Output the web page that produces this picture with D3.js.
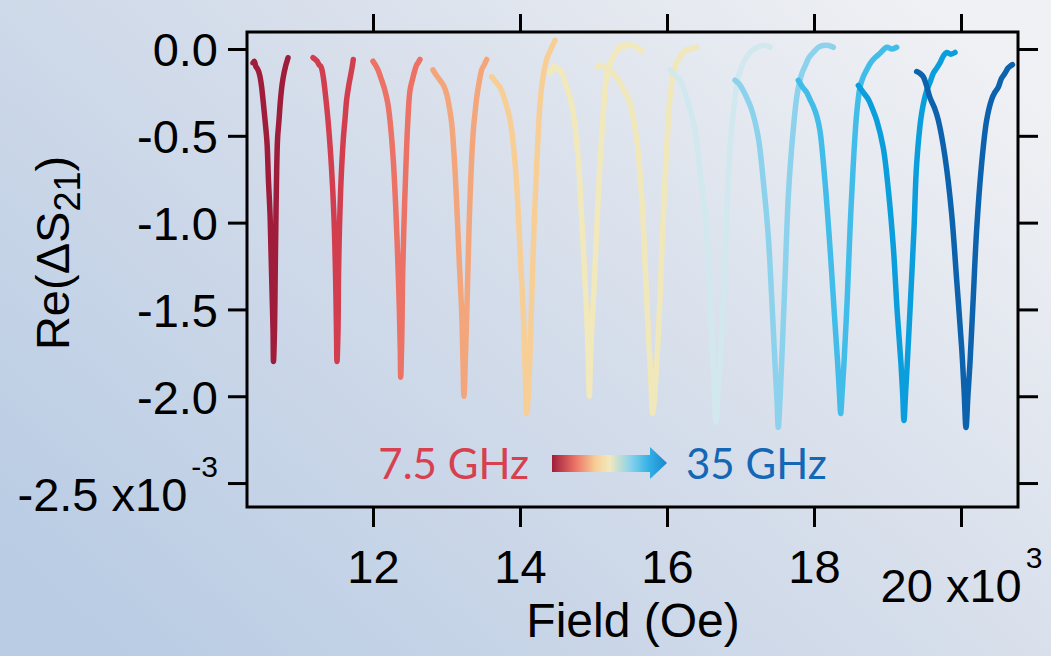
<!DOCTYPE html>
<html>
<head>
<meta charset="utf-8">
<script src="https://cdn.jsdelivr.net/npm/d3@7"></script>
<style>
  html, body { margin: 0; padding: 0; overflow: hidden; background: #d5deea; }
  svg { display: block; }
</style>
</head>
<body>
<svg id="chart" width="1051" height="656"></svg>
<script>
// FMR sweeps: Re(ΔS21) (x10^-3) versus applied field (Oe), one trace per drive frequency
const frequencies = [7.5, 10, 12.5, 15, 17.5, 20, 22.5, 25, 27.5, 30, 32.5, 35];

const ghz7_5 = [[10367,-0.08],[10385,-0.07],[10405,-0.10],[10422,-0.11],[10445,-0.13],[10463,-0.16],[10485,-0.22],[10503,-0.29],[10531,-0.41],[10558,-0.54],[10578,-0.76],[10599,-0.95],[10612,-1.16],[10626,-1.39],[10640,-1.62],[10646,-1.80],[10660,-1.62],[10667,-1.39],[10673,-1.16],[10680,-0.95],[10687,-0.76],[10701,-0.52],[10721,-0.41],[10742,-0.29],[10765,-0.20],[10789,-0.14],[10805,-0.11],[10816,-0.09],[10830,-0.07],[10844,-0.05]];
const ghz10 = [[11184,-0.05],[11215,-0.06],[11240,-0.07],[11265,-0.09],[11290,-0.10],[11306,-0.12],[11330,-0.18],[11347,-0.24],[11388,-0.41],[11435,-0.68],[11469,-0.97],[11490,-1.29],[11503,-1.62],[11510,-1.80],[11524,-1.62],[11531,-1.29],[11544,-1.03],[11565,-0.76],[11596,-0.52],[11620,-0.40],[11642,-0.29],[11670,-0.21],[11701,-0.14],[11718,-0.10],[11732,-0.06]];
const ghz12_5 = [[12000,-0.07],[12030,-0.09],[12068,-0.12],[12110,-0.17],[12163,-0.24],[12200,-0.31],[12231,-0.41],[12276,-0.64],[12309,-0.91],[12336,-1.20],[12358,-1.49],[12371,-1.73],[12377,-1.89],[12388,-1.73],[12395,-1.58],[12404,-1.29],[12422,-1.00],[12445,-0.71],[12472,-0.43],[12503,-0.24],[12540,-0.17],[12571,-0.12],[12595,-0.09],[12612,-0.08],[12639,-0.06]];
const ghz15 = [[12816,-0.12],[12860,-0.15],[12912,-0.18],[12960,-0.21],[13003,-0.26],[13040,-0.34],[13071,-0.43],[13116,-0.70],[13147,-0.97],[13174,-1.23],[13207,-1.52],[13224,-1.79],[13238,-2.00],[13256,-1.79],[13269,-1.62],[13288,-1.33],[13306,-1.04],[13329,-0.76],[13365,-0.47],[13390,-0.36],[13411,-0.28],[13445,-0.19],[13479,-0.12],[13515,-0.09],[13547,-0.06]];
const ghz17_5 = [[13615,-0.16],[13670,-0.19],[13728,-0.22],[13775,-0.27],[13819,-0.33],[13855,-0.39],[13887,-0.47],[13941,-0.70],[13977,-0.95],[14009,-1.23],[14045,-1.52],[14068,-1.81],[14091,-2.10],[14122,-1.91],[14146,-1.62],[14167,-1.33],[14190,-1.04],[14218,-0.76],[14249,-0.47],[14270,-0.33],[14295,-0.22],[14330,-0.12],[14363,-0.06],[14400,-0.02],[14431,0.01],[14476,0.05]];
const ghz20 = [[14408,-0.14],[14440,-0.11],[14476,-0.10],[14510,-0.12],[14544,-0.12],[14590,-0.16],[14635,-0.22],[14680,-0.28],[14725,-0.37],[14793,-0.64],[14839,-0.97],[14871,-1.23],[14907,-1.52],[14929,-1.79],[14943,-2.00],[14959,-1.79],[14975,-1.62],[15007,-1.38],[15043,-1.04],[15088,-0.66],[15133,-0.37],[15170,-0.18],[15197,-0.12],[15225,-0.09],[15252,-0.06],[15300,-0.02],[15330,-0.01],[15360,0.02],[15420,0.01],[15460,0.03],[15496,0.02],[15560,0.02],[15610,0.00],[15656,-0.01]];
const ghz22_5 = [[15061,-0.10],[15110,-0.09],[15156,-0.11],[15210,-0.12],[15269,-0.14],[15340,-0.18],[15405,-0.23],[15470,-0.28],[15520,-0.35],[15588,-0.52],[15656,-0.85],[15701,-1.23],[15745,-1.62],[15775,-1.85],[15805,-2.10],[15860,-1.81],[15905,-1.43],[15950,-0.95],[15996,-0.57],[16041,-0.28],[16086,-0.14],[16120,-0.09],[16154,-0.06],[16200,-0.03],[16245,-0.01],[16320,0.00],[16404,0.01]];
const ghz25 = [[16041,-0.12],[16110,-0.15],[16177,-0.18],[16235,-0.24],[16290,-0.31],[16381,-0.47],[16449,-0.70],[16517,-0.95],[16562,-1.23],[16608,-1.62],[16639,-1.91],[16667,-2.15],[16694,-1.96],[16721,-1.81],[16766,-1.43],[16812,-0.95],[16857,-0.57],[16925,-0.28],[16970,-0.16],[17000,-0.12],[17038,-0.08],[17095,-0.04],[17152,-0.01],[17230,0.01],[17310,0.02],[17360,0.02],[17401,0.01]];
const ghz27_5 = [[16925,-0.18],[16980,-0.20],[17038,-0.24],[17095,-0.29],[17152,-0.35],[17242,-0.51],[17310,-0.76],[17378,-1.08],[17424,-1.43],[17469,-1.81],[17496,-2.02],[17514,-2.18],[17537,-2.02],[17560,-1.81],[17605,-1.33],[17650,-0.85],[17696,-0.57],[17764,-0.28],[17809,-0.18],[17845,-0.13],[17877,-0.10],[17930,-0.05],[17990,-0.02],[18060,0.01],[18126,0.02],[18200,0.02],[18262,0.01]];
const ghz30 = [[17786,-0.18],[17845,-0.22],[17900,-0.25],[17945,-0.29],[17990,-0.33],[18040,-0.39],[18081,-0.47],[18149,-0.76],[18217,-1.14],[18276,-1.52],[18322,-1.81],[18347,-1.99],[18363,-2.10],[18381,-1.99],[18408,-1.81],[18453,-1.43],[18490,-1.04],[18535,-0.66],[18581,-0.37],[18626,-0.22],[18670,-0.16],[18717,-0.12],[18770,-0.08],[18830,-0.05],[18910,-0.02],[18989,0.01],[19060,0.00],[19125,0.01]];
const ghz32_5 = [[18603,-0.21],[18670,-0.25],[18739,-0.29],[18800,-0.35],[18853,-0.41],[18943,-0.57],[19011,-0.81],[19079,-1.14],[19133,-1.52],[19183,-1.81],[19207,-1.99],[19224,-2.14],[19245,-1.99],[19269,-1.81],[19315,-1.43],[19360,-1.04],[19397,-0.66],[19465,-0.37],[19533,-0.24],[19580,-0.19],[19623,-0.14],[19670,-0.11],[19714,-0.08],[19760,-0.04],[19805,-0.02],[19860,-0.03],[19918,-0.02]];
const ghz35 = [[19397,-0.13],[19440,-0.14],[19487,-0.16],[19530,-0.21],[19578,-0.28],[19640,-0.34],[19691,-0.41],[19782,-0.62],[19873,-0.95],[19941,-1.33],[20009,-1.72],[20041,-1.96],[20068,-2.18],[20095,-1.99],[20122,-1.81],[20167,-1.43],[20213,-1.04],[20281,-0.66],[20349,-0.41],[20417,-0.29],[20460,-0.25],[20507,-0.22],[20550,-0.17],[20598,-0.14],[20640,-0.11],[20666,-0.10],[20700,-0.09]];

const sweeps = [ghz7_5, ghz10, ghz12_5, ghz15, ghz17_5, ghz20, ghz22_5, ghz25, ghz27_5, ghz30, ghz32_5, ghz35];

// axis limits and ticks
const fieldRange = [10285.7, 20775.5];
const reRange = [-2.638, 0.098];
const fieldTicks = [12000, 14000, 16000, 18000, 20000];
const reTicks = [0, -0.5, -1.0, -1.5, -2.0, -2.5];

// colour ramp, low frequency (red) to high frequency (blue)
const palette = ["#9f1d3a","#d33e4e","#eb7265","#f3a67c","#f7cf96","#f1e8bc","#f0e7ba","#d1e8ee","#8cd2ec","#42bdea","#0b9edc","#0c62ad"];

const W = 1051, H = 656;
const m = { left: 247, top: 32, right: 1018, bottom: 507 };
const FONT = "'Liberation Sans', Arial, sans-serif";

const svg = d3.select("#chart");
const defs = svg.append("defs");

const bg = defs.append("linearGradient").attr("id", "bgGrad")
  .attr("x1", "0").attr("y1", "0.85").attr("x2", "1").attr("y2", "0.15");
bg.append("stop").attr("offset", "0").attr("stop-color", "#b9cce4");
bg.append("stop").attr("offset", "0.5").attr("stop-color", "#d3dcea");
bg.append("stop").attr("offset", "1").attr("stop-color", "#f0f1f4");

svg.append("rect").attr("width", W).attr("height", H).attr("fill", "url(#bgGrad)");

const x = d3.scaleLinear().domain(fieldRange).range([m.left, m.right]);
const y = d3.scaleLinear().domain(reRange).range([m.bottom, m.top]);

// traces
const line = d3.line()
  .x(d => x(d[0]))
  .y(d => y(d[1]))
  .curve(d3.curveCatmullRom.alpha(0.5));

svg.append("g")
  .selectAll("path")
  .data(sweeps)
  .join("path")
  .attr("d", d => line(d))
  .attr("fill", "none")
  .attr("stroke", (d, i) => palette[i])
  .attr("stroke-width", 5.5)
  .attr("stroke-linejoin", "round")
  .attr("stroke-linecap", "round");

// axes
function styleAxis(g) {
  g.select(".domain").remove();
  g.attr("font-family", FONT).attr("font-size", 47);
  g.selectAll(".tick line").attr("stroke", "#000").attr("stroke-width", 3);
  g.selectAll(".tick text").attr("fill", "#000");
}

const gLeft = svg.append("g").attr("transform", `translate(${m.left},0)`)
  .call(d3.axisLeft(y).tickValues(reTicks).tickSize(19).tickFormat(d => d.toFixed(1)))
  .call(styleAxis);
gLeft.selectAll(".tick text").attr("x", -29).attr("dy", "0.36em");
gLeft.selectAll(".tick text").filter(d => d === -2.5).each(function(d) {
  const t = d3.select(this).text("").attr("dy", null).attr("y", 27);
  t.append("tspan").text(d.toFixed(1) + " x10");
  t.append("tspan").attr("font-size", 30).attr("dx", 4).attr("dy", -34).text("-3");
});

svg.append("g").attr("transform", `translate(${m.right},0)`)
  .call(d3.axisRight(y).tickValues(reTicks).tickSize(20).tickFormat(""))
  .call(styleAxis);

const gBottom = svg.append("g").attr("transform", `translate(0,${m.bottom})`)
  .call(d3.axisBottom(x).tickValues(fieldTicks).tickSize(20).tickFormat(d => String(d / 1000)))
  .call(styleAxis);
gBottom.selectAll(".tick text").attr("y", 76).attr("dy", null);
gBottom.selectAll(".tick text").filter(d => d === 20000).each(function(d) {
  const t = d3.select(this).text("").attr("y", 95);
  t.append("tspan").text(String(d / 1000) + " x10");
  t.append("tspan").attr("font-size", 30).attr("dx", 4).attr("dy", -34).text("3");
});

svg.append("g").attr("transform", `translate(0,${m.top})`)
  .call(d3.axisTop(x).tickValues(fieldTicks).tickSize(18).tickFormat(""))
  .call(styleAxis);

// frame
svg.append("rect")
  .attr("x", m.left).attr("y", m.top)
  .attr("width", m.right - m.left).attr("height", m.bottom - m.top)
  .attr("fill", "none").attr("stroke", "#000").attr("stroke-width", 3);

// axis titles
svg.append("text")
  .attr("x", 633).attr("y", 637)
  .attr("text-anchor", "middle")
  .attr("font-family", FONT).attr("font-size", 48).attr("fill", "#000")
  .text("Field (Oe)");

const yTitle = svg.append("text")
  .attr("transform", "translate(69,253) rotate(-90)")
  .attr("text-anchor", "middle")
  .attr("font-family", FONT).attr("font-size", 47).attr("fill", "#000");
yTitle.append("tspan").text("Re(ΔS");
yTitle.append("tspan").attr("font-size", 36).attr("dy", 11).text("21");
yTitle.append("tspan").attr("dy", -11).text(")");

// frequency legend: gradient arrow between the end frequencies
const ag = defs.append("linearGradient").attr("id", "arrowGrad")
  .attr("gradientUnits", "userSpaceOnUse")
  .attr("x1", 552).attr("y1", 0).attr("x2", 667).attr("y2", 0);
[["0", "#9f1d3a"], ["0.2", "#eb7265"], ["0.38", "#f7cf96"], ["0.5", "#f1e8bc"],
 ["0.68", "#8cd2ec"], ["0.84", "#34b2e6"], ["1", "#1a86cc"]].forEach(([o, c]) =>
  ag.append("stop").attr("offset", o).attr("stop-color", c));

svg.append("path")
  .attr("d", "M552,455 H650 V447 L667,463 L650,479 V472 H552 Z")
  .attr("fill", "url(#arrowGrad)");

const LEG_FONT = "Lato, 'Open Sans', sans-serif";
svg.append("text")
  .attr("x", 529).attr("y", 479).attr("text-anchor", "end")
  .attr("font-family", LEG_FONT).attr("font-size", 42).attr("fill", "#d6404f")
  .text(`${frequencies[0]} GHz`);
svg.append("text")
  .attr("x", 686).attr("y", 479).attr("text-anchor", "start")
  .attr("font-family", LEG_FONT).attr("font-size", 42).attr("fill", "#1467b5")
  .text(`${frequencies[frequencies.length - 1]} GHz`);
</script>
</body>
</html>
